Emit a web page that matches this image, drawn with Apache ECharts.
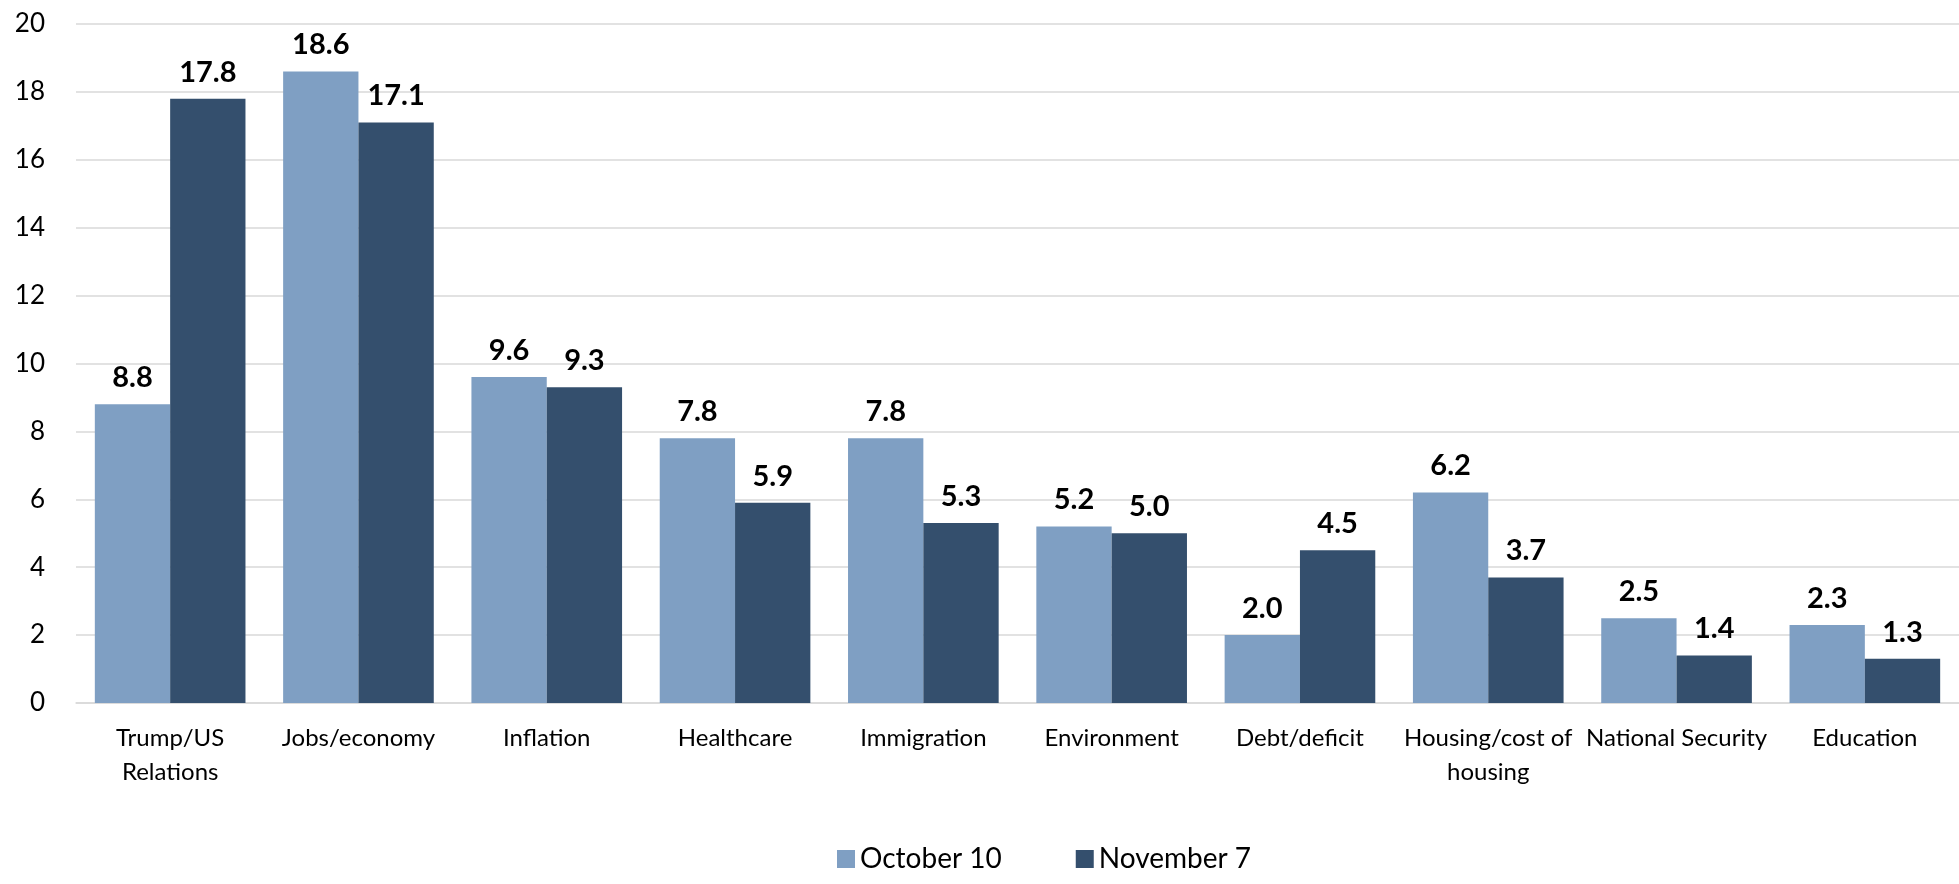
<!DOCTYPE html>
<html><head><meta charset="utf-8">
<script src="https://cdn.jsdelivr.net/npm/echarts@6/dist/echarts.min.js"></script>
<style>html,body{margin:0;padding:0;background:#fff}#c{width:1959px;height:884px}</style>
</head><body><div id="c"></div>
<script>
const categories = ['Trump/US Relations','Jobs/economy','Inflation','Healthcare','Immigration','Environment','Debt/deficit','Housing/cost of housing','National Security','Education'];
const october10 = [8.8, 18.6, 9.6, 7.8, 7.8, 5.2, 2.0, 6.2, 2.5, 2.3];
const november7 = [17.8, 17.1, 9.3, 5.9, 5.3, 5.0, 4.5, 3.7, 1.4, 1.3];
const seriesNames = ['October 10', 'November 7'];
const wrapped = {'Trump/US Relations':'Trump/US\nRelations','Housing/cost of housing':'Housing/cost of\nhousing'};
const FONT = 'Lato';
const chart = echarts.init(document.getElementById('c'));
const labelCfg = {show:true, position:'top', distance:12, fontFamily:FONT, fontWeight:'bold', fontSize:29, color:'#000', formatter: p => p.value.toFixed(1)};
chart.setOption({
  animation:false,
  textStyle:{fontFamily:FONT},
  grid:{left:76, width:1900, top:24, bottom:181, containLabel:false},
  legend:{data:seriesNames, bottom:6, left:832, icon:'rect', itemWidth:18, itemHeight:18, itemGap:74,
    textStyle:{fontFamily:FONT, fontSize:28, color:'#000'}},
  xAxis:{type:'category', data:categories,
    axisLine:{lineStyle:{color:'#d9d9d9', width:1.5}}, axisTick:{show:false},
    axisLabel:{fontFamily:FONT, fontSize:24, color:'#000', margin:18, lineHeight:34, interval:0,
      formatter: v => wrapped[v] || v}},
  yAxis:{type:'value', min:0, max:20, interval:2,
    axisLine:{show:false}, axisTick:{show:false},
    splitLine:{lineStyle:{color:'#d9d9d9', width:1.5}},
    axisLabel:{fontFamily:FONT, fontSize:26, color:'#000', margin:31}},
  series:[
    {name:seriesNames[0], type:'bar', data:october10, barGap:'0%', barCategoryGap:'20%', itemStyle:{color:'#7f9fc3'}, label:labelCfg},
    {name:seriesNames[1], type:'bar', data:november7, itemStyle:{color:'#344f6d'}, label:labelCfg}
  ]
});
</script></body></html>
